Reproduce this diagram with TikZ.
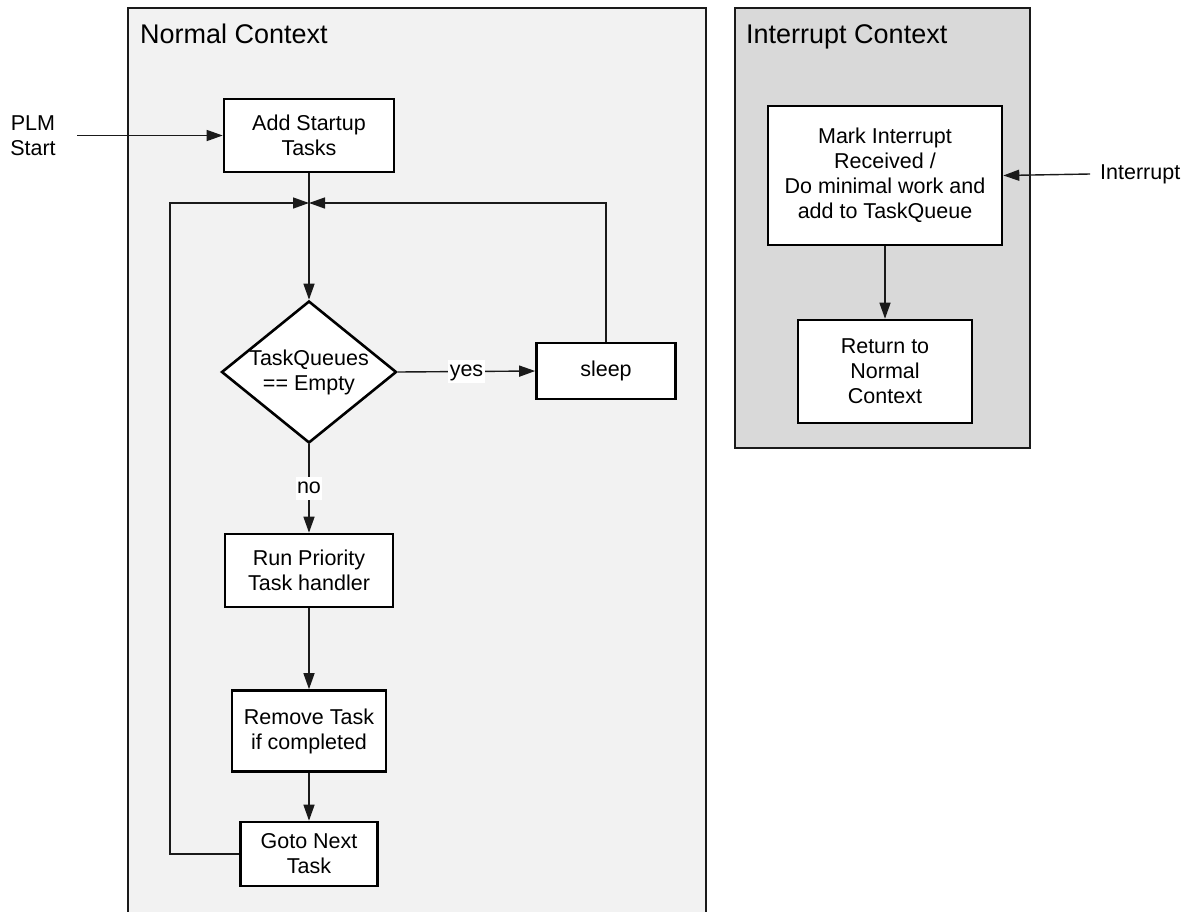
\documentclass[tikz,border=0pt]{standalone}
\usepackage{fontspec}
\setmainfont{Liberation Sans}
\usetikzlibrary{shapes.geometric,arrows.meta}
\definecolor{normalbg}{HTML}{F2F2F2}
\definecolor{intbg}{HTML}{D9D9D9}
\definecolor{edgecol}{HTML}{1A1A1A}
\newcommand\nodefont{\fontsize{21.5}{25}\selectfont}
\newcommand\titlefont{\fontsize{27}{32}\selectfont}
\begin{document}
\begin{tikzpicture}[x=1pt,y=-1pt,
  container/.style={draw=edgecol, line width=2.5pt},
  title/.style={font=\titlefont, inner sep=0pt, anchor=base west},
  box/.style={draw=black, line width=2.6pt, fill=white, inner sep=0pt, align=center, font=\nodefont},
  decision/.style={draw=black, line width=2.6pt, fill=white, diamond, inner sep=0pt, minimum width=175pt, minimum height=142pt},
  plain/.style={inner sep=0pt, align=center, font=\nodefont},
  conn/.style={draw=edgecol, line width=1.4pt},
  arr/.style={conn, -{Triangle[length=16pt,width=11pt]}},
  lbl/.style={fill=white, inner sep=1.5pt, text height=15pt, text depth=5pt, font=\nodefont}]
\useasboundingbox (0,0) rectangle (1192,911);
\clip (0,0) rectangle (1192,911);
\fill[white] (0,0) rectangle (1192,911);

% containers
\draw[container, fill=normalbg] (128,8) rectangle (706,940);
\draw[container, fill=intbg] (735,8) rectangle (1030,448);
\node[title] (nt) at (140,43) {Normal Context};
\node[title] (itt) at (746,43) {Interrupt Context};

% normal context nodes
\node[box, minimum width=170pt, minimum height=73pt] (add) at (309,135.5) {Add Startup\\Tasks};
\node[decision] (dec) at (309,372) {};
\node[plain] (dectxt) at (309,372) {TaskQueues\\== Empty};
\node[box, minimum width=139pt, minimum height=56pt] (sleep) at (606,371) {sleep};
\node[box, minimum width=168pt, minimum height=73pt] (run) at (309,570.5) {Run Priority\\Task handler};
\node[box, minimum width=154pt, minimum height=81pt] (remove) at (309,731) {Remove Task\\if completed};
\node[box, minimum width=137pt, minimum height=64pt] (goto) at (309,854) {Goto Next\\Task};

\node[plain] (plm) at (33,136) {PLM\\Start};
\coordinate (plmend) at (77,135.5);
\coordinate (j) at (309,203);
\coordinate (lp) at (170,203);

% interrupt context nodes
\node[box, minimum width=234pt, minimum height=139pt] (mark) at (885,175.5) {Mark Interrupt\\Received /\\Do minimal work and\\add to TaskQueue};
\node[box, minimum width=174pt, minimum height=103pt] (ret) at (885,371.5) {Return to\\Normal\\Context};
\node[plain, anchor=west] (intr) at (1100,174) {Interrupt};
\coordinate (intend) at (1090,174);

% connectors
\draw[arr] (plmend) -- (add.west);
\draw[conn] (add.south) -- (j);
\draw[arr] (j) -- (dec.north);
\draw[arr] (dec.east) -- node[lbl] {yes} (sleep.west);
\draw[arr] (sleep.north) |- (j);
\draw[arr] (dec.south) -- node[lbl] {no} (run.north);
\draw[arr] (run.south) -- (remove.north);
\draw[arr] (remove.south) -- (goto.north);
\draw[arr] (goto.west) -| (lp) -- (j);
\draw[arr] (intend) -- (mark.east);
\draw[arr] (mark.south) -- (ret.north);
\end{tikzpicture}
\end{document}
